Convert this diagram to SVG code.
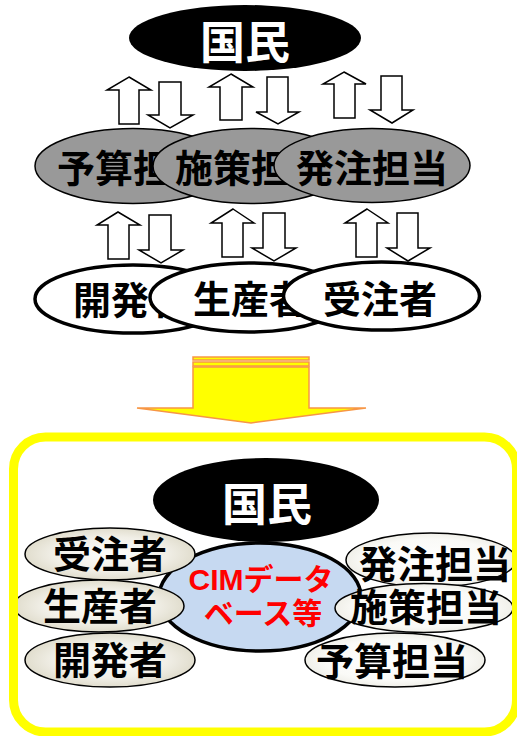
<svg xmlns="http://www.w3.org/2000/svg" width="517" height="736" viewBox="0 0 517 736">
<defs>
<radialGradient id="gL" cx="50%" cy="50%" r="55%">
<stop offset="0" stop-color="#fdfdfb"/><stop offset="0.6" stop-color="#f1efe7"/><stop offset="1" stop-color="#dcd8c6"/>
</radialGradient>
<radialGradient id="gR" cx="50%" cy="50%" r="55%">
<stop offset="0" stop-color="#ffffff"/><stop offset="0.7" stop-color="#fafaf7"/><stop offset="1" stop-color="#ecebe3"/>
</radialGradient>
</defs>
<style>
text{font-family:"Noto Sans CJK JP","Noto Sans CJK SC",sans-serif;font-weight:bold;text-anchor:middle}
.t38{font-size:38px;fill:#000}
.w45{font-size:45px;fill:#fff}
.arr{fill:#fff;stroke:#000;stroke-width:1.5;stroke-linejoin:miter}
.gray{fill:#999;stroke:#000;stroke-width:1.5}
.white{fill:#fff;stroke:#000;stroke-width:3.5}
.lft{fill:url(#gL);stroke:#000;stroke-width:1.5}
.rgt{fill:url(#gR);stroke:#000;stroke-width:1.5}
.red{font-family:"Liberation Sans","Noto Sans CJK JP",sans-serif;font-size:30px;fill:#ff0000}
</style>
<rect width="517" height="736" fill="#fff"/>

<g id="kokumin-top">
<ellipse cx="245" cy="38" rx="116" ry="33" fill="#000"/>
<text class="w45" x="245" y="59">国民</text>
</g>

<g id="connectors">
<polygon class="arr" points="129,77 151,90 139,90 139,124 119,124 119,90 107,90"/>
<polygon class="arr" points="159,82 181,82 181,115 193,115 170,128 148,115 159,115"/>
<polygon class="arr" points="231,74 253,87 242,87 242,120 220,120 220,87 209,87"/>
<polygon class="arr" points="267,77 288,77 288,112 299,112 278,124 256,112 267,112"/>
<polygon class="arr" points="344,72 366,84 355,84 355,118 334,118 334,84 323,84"/>
<polygon class="arr" points="381,76 402,76 402,110 413,110 392,123 370,110 381,110"/>

<polygon class="arr" points="118,212 140,225 129,225 129,259 108,259 108,225 97,225"/>
<polygon class="arr" points="149,215 171,215 171,250 183,250 161,263 139,250 149,250"/>
<polygon class="arr" points="233,209 254,223 243,223 243,257 222,257 222,223 211,223"/>
<polygon class="arr" points="263,213 285,213 285,248 296,248 274,261 252,248 263,248"/>
<polygon class="arr" points="367,209 388,223 377,223 377,257 356,257 356,223 345,223"/>
<polygon class="arr" points="397,213 418,213 418,248 430,248 408,261 387,248 397,248"/>

<g id="big-arrow" fill="#ffff00" stroke="#f79646" stroke-width="1.5">
<rect x="193" y="357" width="116" height="3"/>
<rect x="193" y="362" width="116" height="4"/>
<polygon points="193,367 309,367 309,408 366,408 251,423 137,408 193,408"/>
</g>
</g>

<g id="yosan-1"><ellipse class="gray" cx="133" cy="166" rx="98" ry="37.5"/><text class="t38" x="133" y="182">予算担当</text></g>
<g id="shisaku-1"><ellipse class="gray" cx="251" cy="166" rx="98" ry="37.5"/><text class="t38" x="251" y="182">施策担当</text></g>
<g id="hacchu-1"><ellipse class="gray" cx="372" cy="165.5" rx="98" ry="37"/><text class="t38" x="372" y="182">発注担当</text></g>

<g id="kaihatsu-1"><ellipse class="white" cx="133" cy="299" rx="98" ry="34"/><text class="t38" x="130" y="314">開発者</text></g>
<g id="seisan-1"><ellipse class="white" cx="249" cy="297.5" rx="99" ry="34.5"/><text class="t38" x="250" y="313">生産者</text></g>
<g id="juchu-1"><ellipse class="white" cx="381.5" cy="296" rx="98" ry="34"/><text class="t38" x="380" y="313">受注者</text></g>

<g id="cim">
<ellipse cx="260" cy="597" rx="101" ry="54" fill="#c6d9f1" stroke="#000" stroke-width="3.5"/>
<text class="red" x="261" y="590">CIMデータ</text>
<text class="red" x="263" y="624">ベース等</text>
</g>
<g id="kokumin-bottom">
<ellipse cx="266" cy="500" rx="113" ry="42" fill="#000"/>
<text class="w45" x="267" y="521">国民</text>
</g>

<g id="juchu-2"><ellipse class="lft" cx="110" cy="554" rx="85" ry="26"/><text class="t38" x="110" y="568">受注者</text></g>
<g id="seisan-2"><ellipse class="lft" cx="99" cy="606" rx="85" ry="26"/><text class="t38" x="100" y="620">生産者</text></g>
<g id="kaihatsu-2"><ellipse class="lft" cx="110" cy="660" rx="85" ry="27"/><text class="t38" x="110" y="674">開発者</text></g>

<g id="hacchu-2"><ellipse class="rgt" cx="431" cy="560" rx="85" ry="27"/><text class="t38" x="435" y="578">発注担当</text></g>
<g id="shisaku-2"><ellipse class="rgt" cx="424" cy="608" rx="89" ry="24.5"/><text class="t38" x="426" y="621">施策担当</text></g>
<g id="yosan-2"><ellipse class="rgt" cx="395" cy="660" rx="90" ry="27"/><text class="t38" x="392" y="675">予算担当</text></g>

<g id="frame">
<rect x="13.5" y="437" width="503" height="295" rx="32" ry="32" fill="none" stroke="#ffff00" stroke-width="9"/>
</g>
</svg>
